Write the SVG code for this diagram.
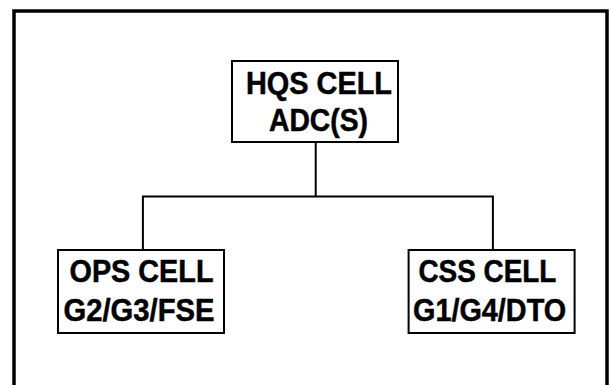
<svg xmlns="http://www.w3.org/2000/svg" width="610" height="385" viewBox="0 0 610 385">
<style>
.box{fill:#fff;stroke:#000;stroke-width:2}
.lbl{font-family:"Liberation Sans",Arial,sans-serif;font-weight:bold;font-size:31px;fill:#000;stroke:#000;stroke-width:0.5;text-anchor:middle}
.conn{fill:none;stroke:#000;stroke-width:2}
</style>
<rect x="0" y="0" width="610" height="385" fill="#fff"/>
<path d="M14,400 V11 H607 V400" fill="none" stroke="#000" stroke-width="3.5"/>
<g id="connectors">
<path class="conn" d="M315.7,142 V196.4"/>
<path class="conn" d="M142.9,250 V196.4 H492.9 V250"/>
</g>
<g id="hqs">
<rect class="box" x="232" y="61" width="166" height="81"/>
<text class="lbl" x="319" y="93.5" textLength="146" lengthAdjust="spacingAndGlyphs">HQS CELL</text>
<text class="lbl" x="318.5" y="130.5" textLength="99" lengthAdjust="spacingAndGlyphs">ADC(S)</text>
</g>
<g id="ops">
<rect class="box" x="58" y="250" width="166" height="83"/>
<text class="lbl" x="141.5" y="282" textLength="144" lengthAdjust="spacingAndGlyphs">OPS CELL</text>
<text class="lbl" x="139" y="320.5" textLength="151" lengthAdjust="spacingAndGlyphs">G2/G3/FSE</text>
</g>
<g id="css">
<rect class="box" x="408.6" y="250" width="166" height="83"/>
<text class="lbl" x="487.4" y="282" textLength="138" lengthAdjust="spacingAndGlyphs">CSS CELL</text>
<text class="lbl" x="489.6" y="320.5" textLength="153" lengthAdjust="spacingAndGlyphs">G1/G4/DTO</text>
</g>
</svg>
